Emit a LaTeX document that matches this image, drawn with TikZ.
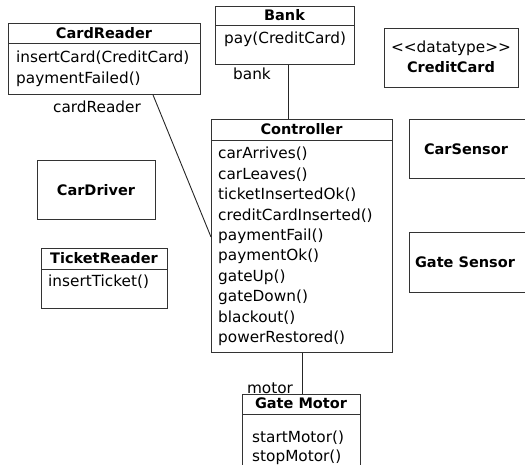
\documentclass[tikz,border=0pt]{standalone}
\usepackage{fontspec}
\setmainfont{DejaVu Sans}
\usetikzlibrary{calc}
\tikzset{
  cls/.style={draw=black!80, line width=0.9pt, anchor=north west, inner sep=0pt},
  clsline/.style={black!80, line width=0.9pt},
  clsname/.style={font=\fontsize{14.5}{17}\selectfont\bfseries, anchor=base, inner sep=0pt},
  op/.style={font=\fontsize{15.3}{18}\selectfont, anchor=base west, inner sep=0pt},
  role/.style={font=\fontsize{15.3}{18}\selectfont, anchor=base, inner sep=0pt},
  assoc/.style={black!85, line width=0.9pt},
}

\begin{document}
\begin{tikzpicture}[x=1pt, y=-1pt]
\useasboundingbox (0,0) rectangle (525,465);
\clip (0,0) rectangle (525,465);

% --- CardReader ---
\node[cls, minimum width=192, minimum height=71] (cardreader) at (8,23) {};
\draw[clsline] ($(cardreader.north west)+(0,20)$) -- ($(cardreader.north east)+(0,20)$);
\node[clsname] (cardreadername) at (104,39) {CardReader};
\node[op] (insertcard) at (16,63) {insertCard(CreditCard)};
\node[op] (paymentfailed) at (16,84) {paymentFailed()};

% --- Bank ---
\node[cls, minimum width=139, minimum height=58] (bank) at (215,6) {};
\draw[clsline] ($(bank.north west)+(0,19)$) -- ($(bank.north east)+(0,19)$);
\node[clsname] (bankname) at (284.5,21) {Bank};
\node[op] (pay) at (224,44) {pay(CreditCard)};

% --- CreditCard datatype ---
\node[cls, minimum width=134, minimum height=59] (creditcard) at (384,28) {};
\node[role] (stereo) at (451,53) {<\kern0pt<datatype>\kern0pt>};
\node[clsname] (creditcardname) at (451,73) {CreditCard};

% --- Controller ---
\node[cls, minimum width=181, minimum height=233] (ctrl) at (211,119) {};
\draw[clsline] ($(ctrl.north west)+(0,21)$) -- ($(ctrl.north east)+(0,21)$);
\node[clsname] (ctrlname) at (301.5,135) {Controller};
\foreach \m [count=\i] in {carArrives(), carLeaves(), ticketInsertedOk(),
    creditCardInserted(), paymentFail(), paymentOk(), gateUp(), gateDown(),
    blackout(), powerRestored()}
  \node[op] (ctrlop\i) at (218,{159+(\i-1)*20.4}) {\m};

% --- sensors ---
\node[cls, minimum width=125, minimum height=59] (carsensor) at (409,119) {};
\node[clsname] (carsensorname) at (466,155) {CarSensor};
\node[cls, minimum width=125, minimum height=60] (gatesensor) at (409,232) {};
\node[clsname] (gatesensorname) at (465,268) {Gate Sensor};

% --- CarDriver ---
\node[cls, minimum width=118, minimum height=59] (cardriver) at (37,160) {};
\node[clsname] (cardrivername) at (96,196) {CarDriver};

% --- TicketReader ---
\node[cls, minimum width=126, minimum height=60] (ticketreader) at (41,248) {};
\draw[clsline] ($(ticketreader.north west)+(0,21)$) -- ($(ticketreader.north east)+(0,21)$);
\node[clsname] (ticketreadername) at (104,264) {TicketReader};
\node[op] (insertticket) at (48,287) {insertTicket()};

% --- Gate Motor ---
\node[cls, minimum width=118, minimum height=90] (gatemotor) at (242,394) {};
\draw[clsline] ($(gatemotor.north west)+(0,20)$) -- ($(gatemotor.north east)+(0,20)$);
\node[clsname] (gatemotorname) at (301,408.5) {Gate Motor};
\node[op] (startmotor) at (252,442) {startMotor()};
\node[op] (stopmotor) at (252,461) {stopMotor()};

% --- associations ---
\coordinate (bankx) at (288,0);
\draw[assoc] (bank.south -| bankx) -- (ctrl.north -| bankx);
\node[role] (bankrole) at (252,80) {bank};
\draw[assoc] ($(cardreader.south west)+(145,0)$) -- ($(ctrl.north west)+(0,118)$);
\node[role] (cardreaderrole) at (97,113) {cardReader};
\draw[assoc] (ctrl.south) -- (ctrl.south |- gatemotor.north);
\node[role] (motorrole) at (270,393) {motor};

\end{tikzpicture}
\end{document}
